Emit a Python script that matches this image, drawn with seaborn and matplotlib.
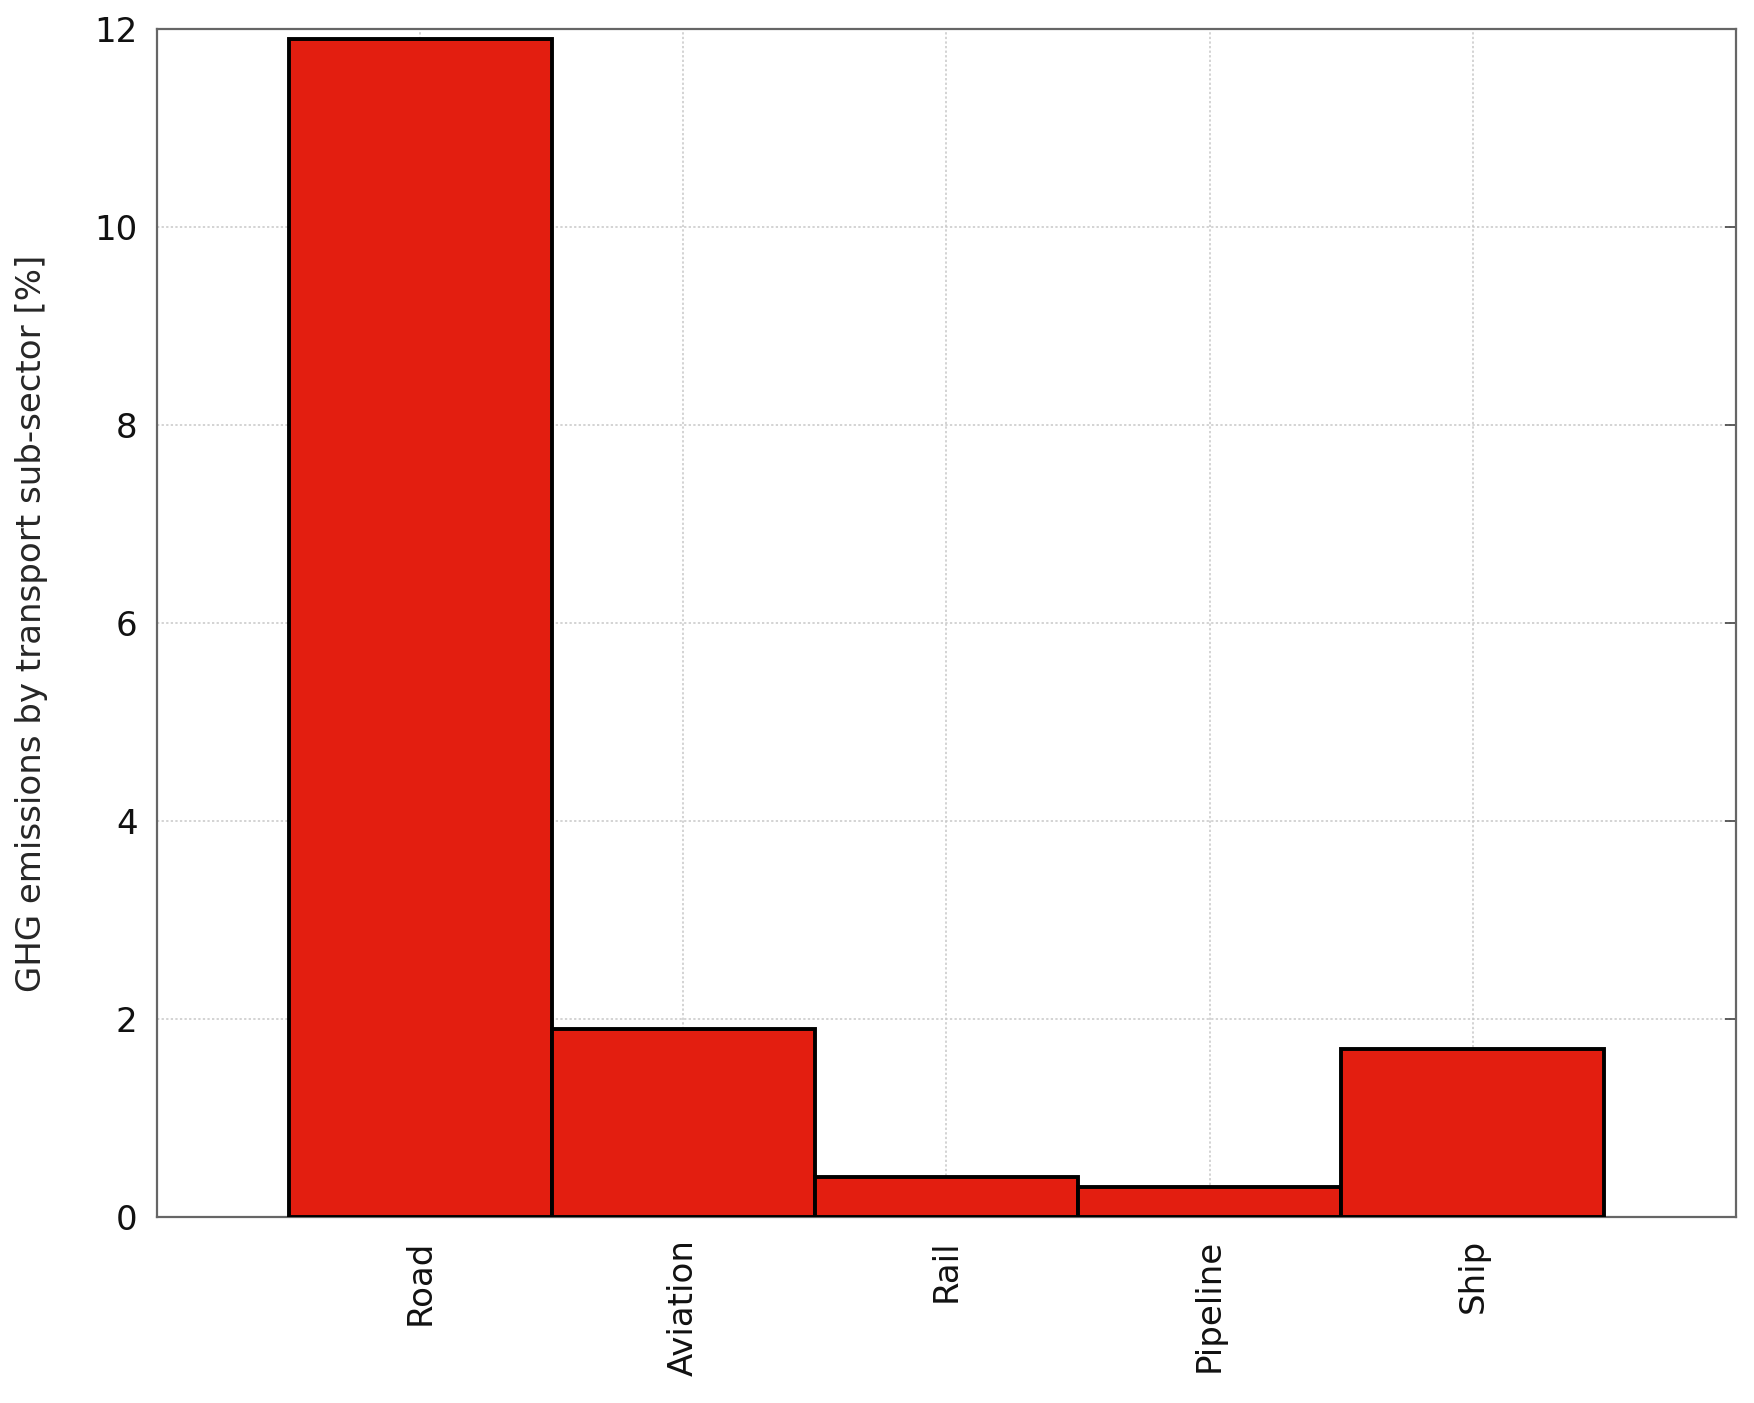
import matplotlib
matplotlib.use("Agg")
import matplotlib.pyplot as plt
import seaborn as sns
import pandas as pd

categories = ["Road", "Aviation", "Rail", "Pipeline", "Ship"]
values = [11.9, 1.9, 0.4, 0.3, 1.7]
y_ticks = [0, 2, 4, 6, 8, 10, 12]
y_label = "GHG emissions by transport sub-sector [%]"

sns.set_style("white")
plt.rcParams['font.family'] = ['DejaVu Sans']

df = pd.DataFrame({"sector": categories, "value": values})

fig = plt.figure(figsize=(17.54, 14.03), dpi=100)
ax = fig.add_axes([0.0895, 0.1326, 0.9002, 0.8467])

sns.barplot(data=df, x="sector", y="value", order=categories, color="#E31E10",
            saturation=1, width=1.0, edgecolor="black", linewidth=2.8, ax=ax, zorder=3)

ax.set_xlim(-1, 5)
ax.set_ylim(0, 12)
ax.set_yticks(y_ticks)
ax.set_yticklabels([str(t) for t in y_ticks], fontsize=24.5)
ax.set_xticks(range(len(categories)))
ax.set_xticklabels(categories, rotation=90, fontsize=24.5)
ax.set_xlabel("")
ax.set_ylabel(y_label, fontsize=24.5, labelpad=33)

ax.grid(True, which="major", axis="both", linestyle=(0, (1.5, 1.5)), color="#c8c8c8", linewidth=1.1, zorder=0)
ax.set_axisbelow(True)

for s in ax.spines.values():
    s.set_visible(True)
    s.set_color("#666666")
    s.set_linewidth(1.6)

ax.tick_params(axis="both", direction="in", length=8, width=1.2, color="#444444",
               top=True, right=True, labelcolor="#111111")
ax.tick_params(axis="x", pad=16, length=0)
ax.tick_params(axis="y", pad=14)

fig.savefig("out.png", dpi=100, facecolor="white")
